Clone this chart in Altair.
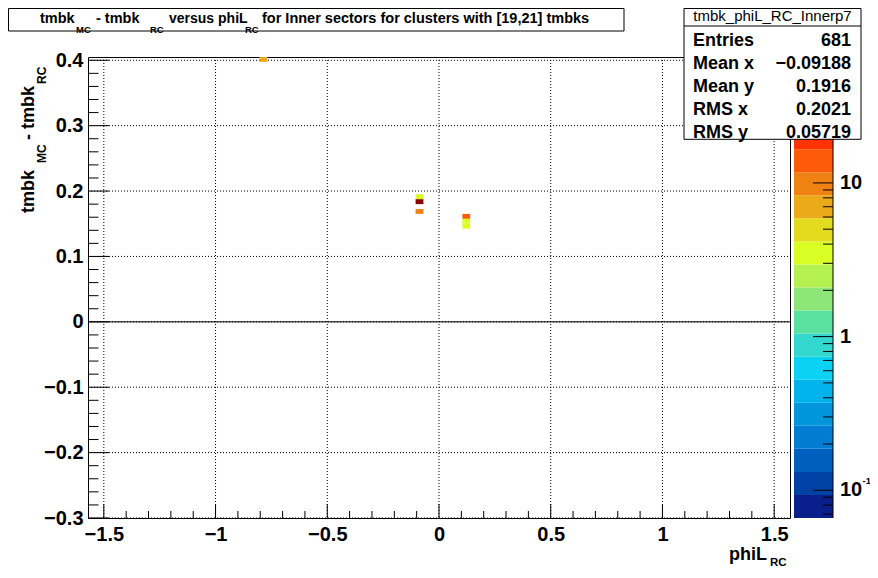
import math
import altair as alt
import pandas as pd

# ---------------- data ----------------
# 2D histogram cells (phiL_RC bin low edge, tmbk_MC - tmbk_RC bin low edge, counts)
cell_phi_lo = [-0.8029, -0.1047, -0.1047, -0.1047, 0.1047, 0.1047, 0.1047]
cell_dy_lo = [0.3975, 0.1875, 0.1800, 0.1650, 0.1575, 0.1500, 0.1425]
cell_counts = [7, 4, 60, 10, 14, 4, 4]
phi_bin = math.pi / 90
dy_bin = 0.0075

x_ticks = [-1.5, -1.0, -0.5, 0.0, 0.5, 1.0, 1.5]
y_ticks = [-0.3, -0.2, -0.1, 0.0, 0.1, 0.2, 0.3, 0.4]

z_min, z_max = 0.066, 66.0
z_major = [0.1, 1, 10]
z_minor = [0.07, 0.08, 0.09, 0.2, 0.3, 0.4, 0.5, 0.6, 0.7, 0.8, 0.9,
           2, 3, 4, 5, 6, 7, 8, 9, 20, 30, 40, 50, 60]
palette = ["#0A1E8C", "#0041A5", "#005FBE", "#007DD2", "#0096DC", "#00B4EB",
           "#0AD2F5", "#32D7CD", "#5AE1A0", "#8CE678", "#B4F050", "#D9FF24",
           "#E3DC1E", "#EBAA19", "#F08214", "#FF5A0A", "#FF3300", "#E01600",
           "#B40800", "#8B0000"]

stat_labels = ["Entries", "Mean x", "Mean y", "RMS x", "RMS y"]
stat_values = ["681", "\u22120.09188", "0.1916", "0.2021", "0.05719"]
stats_name = "tmbk_phiL_RC_Innerp7"

# ---------------- layout ----------------
W, H = 702, 461
F = "Liberation Sans"
PI2 = math.pi / 2

xs = alt.Scale(domain=[-PI2, PI2], nice=False, zero=False)
ys = alt.Scale(domain=[-0.3, 0.405], nice=False, zero=False)
zs = alt.Scale(type="log", domain=[z_min, z_max], nice=False)

nb = len(palette)
z_edges = [z_min * (z_max / z_min) ** (k / nb) for k in range(nb + 1)]
cscale = alt.Scale(type="threshold", domain=z_edges[1:nb], range=palette)

xaxis = alt.Axis(values=x_ticks, format="~g", labelFont=F, labelFontSize=20,
                 labelFontWeight="bold", labelColor="black", ticks=False, tickSize=0,
                 domain=False, grid=False, labelPadding=6, title=None,
                 labelFlush=False, labelOverlap=False)
yaxis = alt.Axis(values=y_ticks, format="~g", labelFont=F, labelFontSize=20,
                 labelFontWeight="bold", labelColor="black", ticks=False, tickSize=0,
                 domain=False, grid=False, labelPadding=5, title=None,
                 labelFlush=False, labelOverlap=False)

cells = pd.DataFrame({
    "x0": cell_phi_lo,
    "x1": [v + phi_bin for v in cell_phi_lo],
    "y0": cell_dy_lo,
    "y1": [v + dy_bin for v in cell_dy_lo],
    "n": cell_counts,
})

x_minor = [round(-1.5 + 0.1 * i, 2) for i in range(31)]
x_minor = [v for v in x_minor if round(v * 2) != v * 2]
y_minor = [round(-0.3 + 0.02 * i, 3) for i in range(36)]
y_minor = [v for v in y_minor if abs(round(v * 10) - v * 10) > 1e-6]

grid_x = alt.Chart(pd.DataFrame({"v": x_ticks})).mark_rule(
    color="black", strokeDash=[1, 2], strokeWidth=1).encode(
    x=alt.X("v:Q", scale=xs, axis=xaxis), y=alt.value(0), y2=alt.value(H))
grid_y = alt.Chart(pd.DataFrame({"v": y_ticks})).mark_rule(
    color="black", strokeDash=[1, 2], strokeWidth=1).encode(
    y=alt.Y("v:Q", scale=ys, axis=yaxis), x=alt.value(0), x2=alt.value(W))
heat = alt.Chart(cells).mark_rect(strokeWidth=0).encode(
    x=alt.X("x0:Q", scale=xs, axis=xaxis), x2="x1",
    y=alt.Y("y0:Q", scale=ys, axis=yaxis), y2="y1",
    color=alt.Color("n:Q", scale=cscale, legend=None))
zero = alt.Chart(pd.DataFrame({"v": [0.0]})).mark_rule(color="black", strokeWidth=1).encode(
    y=alt.Y("v:Q", scale=ys, axis=yaxis), x=alt.value(0), x2=alt.value(W))
yt_major = alt.Chart(pd.DataFrame({"v": y_ticks})).mark_rule(color="black").encode(
    y=alt.Y("v:Q", scale=ys, axis=yaxis), x=alt.value(0), x2=alt.value(21))
yt_minor = alt.Chart(pd.DataFrame({"v": y_minor})).mark_rule(color="black").encode(
    y=alt.Y("v:Q", scale=ys, axis=yaxis), x=alt.value(0), x2=alt.value(10.5))
xt_major = alt.Chart(pd.DataFrame({"v": x_ticks})).mark_rule(color="black").encode(
    x=alt.X("v:Q", scale=xs, axis=xaxis), y=alt.value(H - 14), y2=alt.value(H))
xt_minor = alt.Chart(pd.DataFrame({"v": x_minor})).mark_rule(color="black").encode(
    x=alt.X("v:Q", scale=xs, axis=xaxis), y=alt.value(H - 7), y2=alt.value(H))

main = alt.layer(grid_x, grid_y, heat, zero, yt_major, yt_minor, xt_major, xt_minor)

# ---------------- colour bar ----------------
CB0, CB1 = 706, 745
bands = pd.DataFrame({
    "lo": z_edges[:-1],
    "hi": z_edges[1:],
    "mid": [math.sqrt(a * b) for a, b in zip(z_edges[:-1], z_edges[1:])],
})
cb_rect = alt.Chart(bands).mark_rect(strokeWidth=0).encode(
    y=alt.Y("lo:Q", scale=zs, axis=None), y2="hi",
    x=alt.value(CB0), x2=alt.value(CB1),
    color=alt.Color("mid:Q", scale=cscale, legend=None))
cb_edge = alt.Chart(pd.DataFrame({"v": [z_min, z_max]})).mark_rule(color="black").encode(
    y=alt.Y("min(v):Q", scale=zs, axis=None), y2="max(v)", x=alt.value(CB1))
cb_major = alt.Chart(pd.DataFrame({"v": z_major})).mark_rule(color="black").encode(
    y=alt.Y("v:Q", scale=zs, axis=None), x=alt.value(CB1 - 20), x2=alt.value(CB1))
cb_minor = alt.Chart(pd.DataFrame({"v": z_minor})).mark_rule(color="black").encode(
    y=alt.Y("v:Q", scale=zs, axis=None), x=alt.value(CB1 - 10), x2=alt.value(CB1))
cb_lab = alt.Chart(pd.DataFrame({"v": z_major, "t": ["10", "1", "10"]})).mark_text(
    align="left", baseline="middle", font=F, fontSize=20, fontWeight="bold", color="black").encode(
    y=alt.Y("v:Q", scale=zs, axis=None), x=alt.value(752), text="t:N")
cb_sup = alt.Chart(pd.DataFrame({"v": [0.1], "t": ["-1"]})).mark_text(
    align="left", baseline="middle", font=F, fontSize=9.5, fontWeight="bold", color="black", dy=-9).encode(
    y=alt.Y("v:Q", scale=zs, axis=None), x=alt.value(774.5), text="t:N")
cbar = alt.layer(cb_rect, cb_edge, cb_major, cb_minor, cb_lab, cb_sup)

# ---------------- title, stats box, axis titles ----------------
boxes = pd.DataFrame({"bx0": [-79.5, 596], "bx1": [536, 773],
                      "by0": [-48.5, -48.5], "by1": [-26, 82.3]})
box = alt.Chart(boxes).mark_rect(fill="white", stroke="black", strokeWidth=1).encode(
    x=alt.X("bx0:Q", scale=None, axis=None), x2="bx1",
    y=alt.Y("by0:Q", scale=None, axis=None), y2="by1")
sep = alt.Chart(pd.DataFrame({"a": [596], "b": [773], "y": [-31]})).mark_rule(color="black").encode(
    x=alt.X("a:Q", scale=None, axis=None), x2="b", y=alt.Y("y:Q", scale=None, axis=None))

tl_t = ["tmbk", "MC", "- tmbk", "RC", "versus phiL", "RC",
        "for Inner sectors for clusters with [19,21] tmbks",
        "phiL", "RC",
        "tmbk", "MC", "- tmbk", "RC"] + stat_labels
tl_x = [-48, -12, 8, 62, 81, 157, 174,
        641, 682,
        -54.5, -42.5, -54.5, -42.5] + [605] * 5
tl_y = [-33.7, -24, -33.7, -24, -33.7, -24, -33.7,
        503, 508.5,
        156, 106, 83, 27] + [-11.5, 11.5, 34.5, 57.5, 80.5]
tl_s = [14.5, 9.5, 14.5, 9.5, 14, 9.5, 14.5,
        18, 11.5,
        18, 12, 18, 12] + [18] * 5
tl_a = [0] * 9 + [270] * 4 + [0] * 5
txt_left = alt.Chart(pd.DataFrame({"t": tl_t, "px": tl_x, "py": tl_y, "fs": tl_s, "a": tl_a})).mark_text(
    align="left", baseline="alphabetic", font=F, fontWeight="bold", color="black").encode(
    x=alt.X("px:Q", scale=None, axis=None), y=alt.Y("py:Q", scale=None, axis=None),
    size=alt.Size("fs:Q", scale=None, legend=None), angle=alt.Angle("a:Q", scale=None, legend=None),
    text="t:N")
txt_right = alt.Chart(pd.DataFrame({"t": stat_values, "py": [-11.5, 11.5, 34.5, 57.5, 80.5]})).mark_text(
    align="right", baseline="alphabetic", font=F, fontWeight="bold", fontSize=18, color="black").encode(
    x=alt.value(763), y=alt.Y("py:Q", scale=None, axis=None), text="t:N")
txt_head = alt.Chart(pd.DataFrame({"t": [stats_name]})).mark_text(
    align="center", baseline="alphabetic", font=F, fontSize=15, color="black").encode(
    x=alt.value(684.5), y=alt.value(-36.5), text="t:N")
deco = alt.layer(box, sep, txt_left, txt_right, txt_head)

chart = alt.layer(main, cbar, deco).resolve_scale(
    x="independent", y="independent"
).properties(
    width=W, height=H,
    padding={"left": 80, "top": 49, "right": 80, "bottom": 50},
    autosize=alt.AutoSizeParams(type="none"),
).configure_view(stroke="black", strokeWidth=1)

chart.save("out.html", embed_options={"renderer": "svg", "actions": False})
